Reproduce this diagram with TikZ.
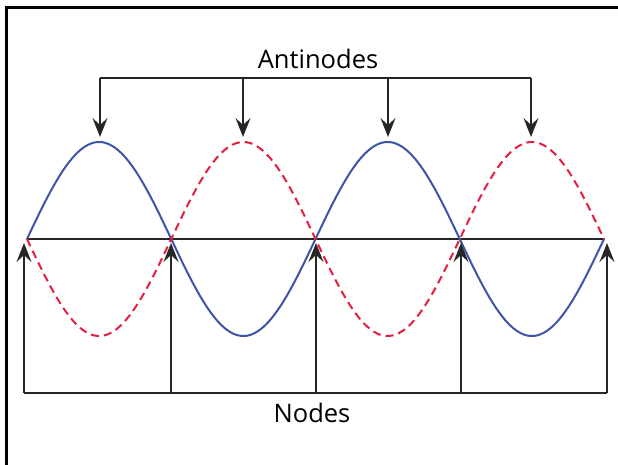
\documentclass[tikz,border=0pt]{standalone}
\usepackage{fontspec}
\setmainfont{Open Sans}
\usetikzlibrary{arrows.meta}
\definecolor{wblue}{RGB}{63,84,166}
\definecolor{wred}{RGB}{228,30,63}
\tikzset{
  frame/.style={line width=3pt, black},
  axisline/.style={line width=2pt, black!85},
  conn/.style={line width=1.8pt, black!85},
  tipped/.style={conn, -{Stealth[length=19pt,width=15pt,inset=7pt]}},
  wave/.style={line width=2pt, wblue},
  dwave/.style={line width=2pt, wred, dash pattern=on 8pt off 5pt},
  lbl/.style={font=\fontsize{25.5}{28}\selectfont, inner sep=0pt}
}
\begin{document}
\begin{tikzpicture}[x=1pt,y=-1pt]
\useasboundingbox (0,0) rectangle (618,464);
\draw[frame] (6,466) -- (6,7) -- (620,7);
% axis
\coordinate (n0) at (27,239);
\coordinate (n4) at (604,239);
\draw[axisline] (n0) -- (n4);
% waves
\draw[wave] plot[domain=27:604, samples=240] (\x, {239 - 97*sin((\x-27)/288.5*360)});
\draw[dwave] plot[domain=27:604, samples=240] (\x, {239 + 97*sin((\x-27)/288.5*360)});
% antinodes
\node[lbl] (anti) at (318,59) {Antinodes};
\coordinate (b1) at (100,78);
\coordinate (b2) at (243,78);
\coordinate (b3) at (388,78);
\coordinate (b4) at (531,78);
\coordinate (p1) at (100,137);
\coordinate (p2) at (243,137);
\coordinate (p3) at (388,137);
\coordinate (p4) at (531,137);
\draw[conn] (b1) -- (b4);
\foreach \i in {1,...,4} \draw[tipped] (b\i) -- (p\i);
% nodes
\node[lbl] (nodes) at (312,413) {Nodes};
\coordinate (c0) at (24,393);
\coordinate (c1) at (171,393);
\coordinate (c2) at (316,393);
\coordinate (c3) at (461,393);
\coordinate (c4) at (607,393);
\coordinate (t0) at (24,243);
\coordinate (t1) at (171,243);
\coordinate (t2) at (316,243);
\coordinate (t3) at (461,243);
\coordinate (t4) at (607,243);
\draw[conn] (c0) -- (c4);
\foreach \i in {0,...,4} \draw[tipped] (c\i) -- (t\i);
\end{tikzpicture}
\end{document}
